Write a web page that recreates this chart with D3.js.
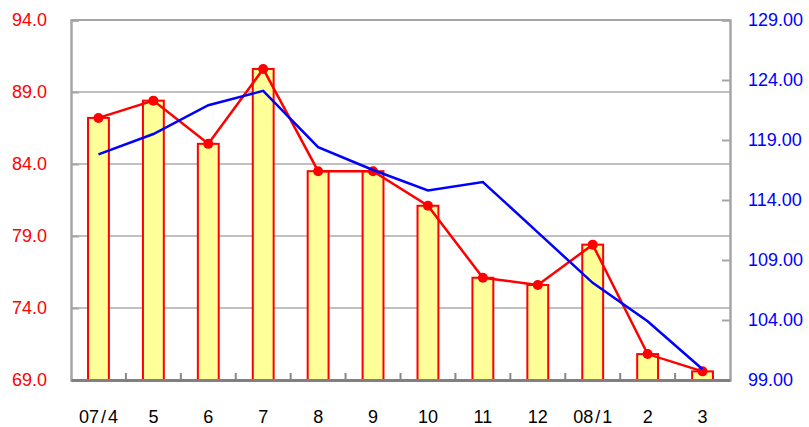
<!DOCTYPE html>
<html>
<head>
<meta charset="utf-8">
<script src="https://cdn.jsdelivr.net/npm/d3@7"></script>
<style>
  body { margin: 0; background: #fff; }
  svg { display: block; font-family: "Liberation Sans", Arial, sans-serif; }
</style>
</head>
<body>
<div id="chart"></div>
<script>
// categories (month labels)
const months = ["07/4", "5", "6", "7", "8", "9", "10", "11", "12", "08/1", "2", "3"];
// left axis series (bars + red line)
const redValues = [87.2, 88.4, 85.4, 90.6, 83.5, 83.5, 81.1, 76.1, 75.6, 78.4, 70.8, 69.6];
// right axis series (blue line)
const blueValues = [117.8, 119.5, 121.9, 123.1, 118.4, 116.5, 114.8, 115.5, 111.3, 107.1, 103.9, 99.9];
// tick values
const leftTicks = [69, 74, 79, 84, 89, 94];
const rightTicks = [99, 104, 109, 114, 119, 124, 129];

const W = 809, H = 427;
const plot = {left: 71, right: 730, top: 20, bottom: 380};

const svg = d3.select("#chart")
  .append("svg")
    .attr("width", W)
    .attr("height", H);

const x = d3.scaleBand()
  .domain(months)
  .range([plot.left, plot.right])
  .padding(0);

const xBar = d3.scaleBand()
  .domain(months)
  .range([plot.left, plot.right])
  .paddingInner(0.62)
  .paddingOuter(0.31);

const yLeft = d3.scaleLinear().domain([69, 94]).range([plot.bottom, plot.top]);
const yRight = d3.scaleLinear().domain([99, 129]).range([plot.bottom, plot.top]);

const data = months.map((m, i) => ({m: m, red: redValues[i], blue: blueValues[i]}));

// gridlines
svg.append("g")
  .selectAll("line")
  .data(leftTicks.slice(1, -1))
  .enter()
  .append("line")
    .attr("x1", plot.left)
    .attr("x2", plot.right)
    .attr("y1", d => yLeft(d))
    .attr("y2", d => yLeft(d))
    .attr("stroke", "#c0c0c0")
    .attr("stroke-width", 2);

// top border
svg.append("line")
  .attr("x1", plot.left).attr("x2", plot.right)
  .attr("y1", yLeft(94)).attr("y2", yLeft(94))
  .attr("stroke", "#a6a6a6").attr("stroke-width", 2);

// bars
svg.append("g")
  .selectAll("rect")
  .data(data)
  .enter()
  .append("rect")
    .attr("x", d => xBar(d.m))
    .attr("y", d => yLeft(d.red))
    .attr("width", xBar.bandwidth())
    .attr("height", d => yLeft(69) - yLeft(d.red))
    .attr("fill", "#ffff99")
    .attr("stroke", "#ff0000")
    .attr("stroke-width", 2);

// red line
const redLine = d3.line()
  .x(d => x(d.m) + x.bandwidth() / 2)
  .y(d => yLeft(d.red));

svg.append("path")
  .datum(data)
  .attr("d", redLine)
  .attr("fill", "none")
  .attr("stroke", "#ff0000")
  .attr("stroke-width", 2.5);

svg.append("g")
  .selectAll("circle")
  .data(data)
  .enter()
  .append("circle")
    .attr("cx", d => x(d.m) + x.bandwidth() / 2)
    .attr("cy", d => yLeft(d.red))
    .attr("r", 5)
    .attr("fill", "#ff0000");

// blue line
const blueLine = d3.line()
  .x(d => x(d.m) + x.bandwidth() / 2)
  .y(d => yRight(d.blue));

svg.append("path")
  .datum(data)
  .attr("d", blueLine)
  .attr("fill", "none")
  .attr("stroke", "#0000ff")
  .attr("stroke-width", 2.5);

// left axis
const leftAxis = svg.append("g")
  .attr("transform", "translate(" + plot.left + ",0)")
  .call(d3.axisLeft(yLeft).tickValues(leftTicks).tickFormat(d3.format(".1f")).tickSize(-8).tickPadding(24));
leftAxis.select(".domain").attr("stroke", "#a6a6a6").attr("stroke-width", 2.5);
leftAxis.selectAll(".tick line").attr("stroke", "#a6a6a6").attr("stroke-width", 2);
leftAxis.selectAll(".tick text")
  .attr("fill", "#ff0000")
  .style("font-size", "18px");

// right axis
const rightAxis = svg.append("g")
  .attr("transform", "translate(" + plot.right + ",0)")
  .call(d3.axisRight(yRight).tickValues(rightTicks).tickFormat(d3.format(".2f")).tickSize(-8).tickPadding(18));
rightAxis.select(".domain").attr("stroke", "#a6a6a6").attr("stroke-width", 2.5);
rightAxis.selectAll(".tick line").attr("stroke", "#a6a6a6").attr("stroke-width", 2);
rightAxis.selectAll(".tick text")
  .attr("fill", "#0000ff")
  .style("font-size", "18px");

// bottom axis: boundary ticks pointing up
svg.append("g")
  .selectAll("line")
  .data(months.slice(1))
  .enter()
  .append("line")
    .attr("x1", d => x(d))
    .attr("x2", d => x(d))
    .attr("y1", plot.bottom)
    .attr("y2", plot.bottom - 7)
    .attr("stroke", "#888")
    .attr("stroke-width", 2);

const bottomAxis = svg.append("g")
  .attr("transform", "translate(0," + plot.bottom + ")")
  .call(d3.axisBottom(x).tickSize(0).tickPadding(30));
bottomAxis.select(".domain").attr("stroke", "#808080").attr("stroke-width", 3);
bottomAxis.selectAll(".tick text")
  .attr("fill", "#000")
  .style("font-size", "18px")
  .each(function(d) {
    // spread the slash a little, as in the original labels
    const parts = d.split("/");
    if (parts.length === 2) {
      const t = d3.select(this).text(null);
      t.append("tspan").text(parts[0]);
      t.append("tspan").attr("dx", 2).text("/");
      t.append("tspan").attr("dx", 2).text(parts[1]);
    }
  });
</script>
</body>
</html>
